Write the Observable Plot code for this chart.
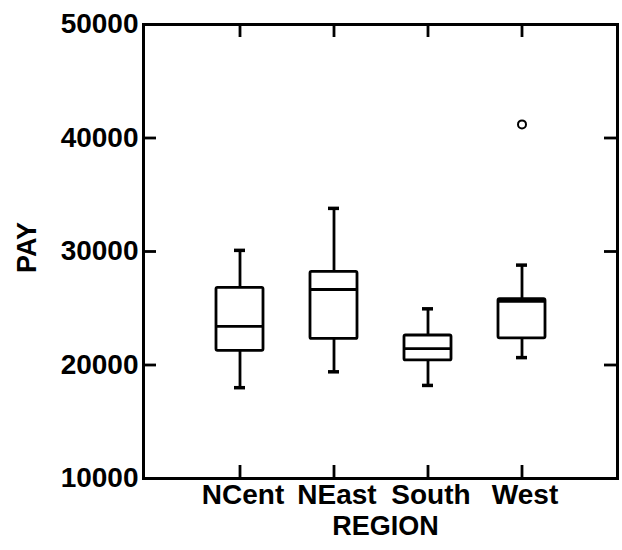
<!DOCTYPE html>
<html>
<head>
<meta charset="utf-8">
<script src="https://cdn.jsdelivr.net/npm/d3@7"></script>
<script src="https://cdn.jsdelivr.net/npm/@observablehq/plot@0.6"></script>
<style>
  body { margin: 0; background: white; }
</style>
</head>
<body>
<div id="chart"></div>
<script>
const regions = ["NCent", "NEast", "South", "West"];
const lowWhisker = [18000, 19400, 18200, 20650];
const q1 = [21250, 22300, 20400, 22350];
const median = [23400, 26650, 21450, 25600];
const q3 = [26800, 28200, 22600, 25800];
const highWhisker = [30100, 33800, 24950, 28800];
const outlierRegion = ["West"];
const outlierPay = [41200];
const yTicks = [10000, 20000, 30000, 40000, 50000];

const boxes = regions.map((r, i) => ({
  region: r, lo: lowWhisker[i], q1: q1[i], med: median[i], q3: q3[i], hi: highWhisker[i]
}));
const outliers = outlierRegion.map((r, i) => ({region: r, pay: outlierPay[i]}));

const W = 622, H = 550;
const mL = 143, mR = 5, mT = 24, mB = 72;
const innerW = W - mL - mR, innerH = H - mT - mB;
const tickLen = 13;
const capInset = 18;
const sw = 2.8;
const font = "'Liberation Sans', Arial, Helvetica, sans-serif";

const chart = Plot.plot({
  width: W,
  height: H,
  marginLeft: mL,
  marginRight: mR,
  marginTop: mT,
  marginBottom: mB,
  style: {fontFamily: font, fontWeight: "bold", fontSize: "28px", color: "black", background: "white"},
  x: {type: "band", domain: regions, paddingInner: 0.5, paddingOuter: 0.75, axis: null},
  y: {domain: [10000, 50000], axis: null},
  marks: [
    // inward ticks: left and right
    Plot.tickY(yTicks.slice(1, -1), {y: d => d, insetRight: innerW - tickLen, stroke: "black", strokeWidth: sw}),
    Plot.tickY(yTicks.slice(1, -1), {y: d => d, insetLeft: innerW - tickLen, stroke: "black", strokeWidth: sw}),
    // inward ticks: top and bottom
    Plot.ruleX(regions, {x: d => d, insetBottom: innerH - tickLen, stroke: "black", strokeWidth: sw}),
    Plot.ruleX(regions, {x: d => d, insetTop: innerH - tickLen, stroke: "black", strokeWidth: sw}),
    // whiskers
    Plot.ruleX(boxes, {x: "region", y1: "q3", y2: "hi", stroke: "black", strokeWidth: sw}),
    Plot.ruleX(boxes, {x: "region", y1: "lo", y2: "q1", stroke: "black", strokeWidth: sw}),
    Plot.tickY(boxes, {x: "region", y: "hi", insetLeft: capInset, insetRight: capInset, stroke: "black", strokeWidth: 3.5}),
    Plot.tickY(boxes, {x: "region", y: "lo", insetLeft: capInset, insetRight: capInset, stroke: "black", strokeWidth: 3.5}),
    // boxes
    Plot.barY(boxes, {x: "region", y1: "q1", y2: "q3", fill: "white", stroke: "black", strokeWidth: sw, rx: 1.5}),
    Plot.tickY(boxes, {x: "region", y: "med", stroke: "black", strokeWidth: sw}),
    // outlier
    Plot.dot(outliers, {x: "region", y: "pay", r: 4, stroke: "black", strokeWidth: 2, fill: "white"}),
    // frame
    Plot.frame({stroke: "black", strokeWidth: 3}),
    // axes labels
    Plot.axisY({ticks: yTicks, tickSize: 0, tickPadding: 5, tickFormat: d => String(d), label: null, fontSize: 28, fontWeight: "bold"}),
    Plot.axisX({tickSize: 0, tickPadding: 6, label: null, fontSize: 28, fontWeight: "bold", dx: 3}),
    Plot.text(["PAY"], {frameAnchor: "left", dx: -116, dy: -4, rotate: -90, text: d => d, fontSize: 27, fontWeight: "bold", lineAnchor: "middle", textAnchor: "middle"}),
    Plot.text(["REGION"], {frameAnchor: "bottom", dx: 5, dy: 48, text: d => d, fontSize: 27, fontWeight: "bold", lineAnchor: "middle", textAnchor: "middle"})
  ]
});
document.getElementById("chart").appendChild(chart);
</script>
</body>
</html>
